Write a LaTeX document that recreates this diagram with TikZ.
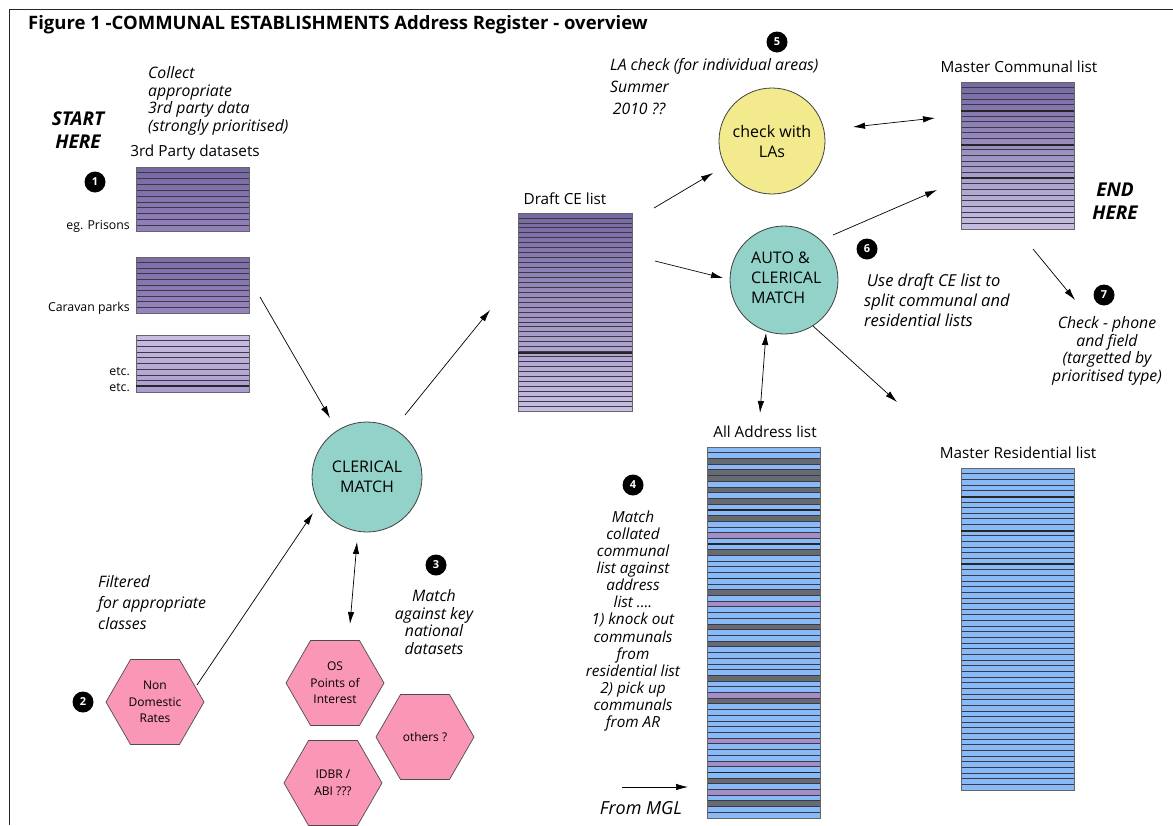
\documentclass[tikz,border=0pt]{standalone}
\usepackage{fontspec}
\setmainfont{Open Sans}
\usetikzlibrary{arrows.meta,shapes.geometric}
\definecolor{teal1}{RGB}{146,210,200}
\definecolor{yell1}{RGB}{242,234,140}
\definecolor{hexpink}{RGB}{250,150,182}
\definecolor{ptop}{RGB}{118,104,162}
\definecolor{pmid}{RGB}{150,132,190}
\definecolor{pbot}{RGB}{200,190,226}
\definecolor{addrb}{RGB}{135,186,246}
\definecolor{addrg}{RGB}{102,107,114}
\definecolor{addrp}{RGB}{162,142,196}
\definecolor{sline}{RGB}{60,56,72}
\newcommand{\gradlist}[8]{%
  \shade[top color=#7,bottom color=#8] (#2,#3) rectangle (#4,#5);
  \pgfmathtruncatemacro{\stripecount}{#6-1}
  \pgfmathsetmacro{\stripepitch}{(#5-#3)/#6}
  \foreach \k in {1,...,\stripecount}{\draw[stripe] (#2,{#3+\k*\stripepitch}) -- (#4,{#3+\k*\stripepitch});}
  \node[lframe,minimum width={(#4-#2)*1pt},minimum height={(#5-#3)*1pt}] (#1) at ({(#2+#4)/2},{(#3+#5)/2}) {};
}
\begin{document}
\begin{tikzpicture}[x=1pt,y=-1pt,
  stripe/.style={draw=sline,line width=0.8pt},
  thickline/.style={draw=black!85,line width=2pt},
  lframe/.style={draw=black!60,line width=1pt,inner sep=0pt,outer sep=0pt},
  lbl/.style={font=\fontsize{15.3}{18}\selectfont,inner sep=0pt},
  small/.style={font=\fontsize{12.3}{14}\selectfont,inner sep=0pt},
  note/.style={font=\fontsize{15.8}{17.5}\selectfont\itshape,inner sep=0pt},
  badge/.style={circle,fill=black,text=white,font=\fontsize{11}{11}\selectfont\bfseries,minimum size=21pt,inner sep=0pt},
  proc/.style={circle,draw=black!75,line width=0.8pt,inner sep=0pt,align=center,font=\fontsize{16}{20}\selectfont},
  hexa/.style={regular polygon,regular polygon sides=6,minimum size=98pt,draw=black!70,line width=0.7pt,fill=hexpink,inner sep=0pt,align=center,font=\fontsize{12}{16.5}\selectfont},
  arr/.style={-{Latex[length=12pt,width=6.5pt]},line width=0.7pt},
  darr/.style={{Latex[length=12pt,width=6.5pt]}-{Latex[length=12pt,width=6.5pt]},line width=0.7pt},
  big/.style={font=\fontsize{19}{23}\selectfont\bfseries\itshape,inner sep=0pt,align=center}
]
\useasboundingbox (0,0) rectangle (1173,825);
\fill[white] (0,0) rectangle (1173,825);
% frame
\draw[line width=1.2pt,black!85] (9.5,825) -- (9.5,9.5) -- (1173,9.5);
% title
\node[anchor=west,font=\fontsize{18.5}{20}\selectfont\bfseries,inner sep=0pt] (title) at (28,25) {Figure 1 -COMMUNAL ESTABLISHMENTS Address Register - overview};

% ---- step 1
\node[big] (start) at (78,130) {START\\HERE};
\node[note,anchor=west,align=left] (collect) at (148,101) {Collect\\appropriate\\3rd party data\\(strongly prioritised)};
\node[lbl] (dslabel) at (195,153) {3rd Party datasets};
\node[badge] (b1) at (95,182) {1};
\gradlist{ds1}{136}{167}{249}{231}{11}{ptop}{pmid!90!ptop}
\gradlist{ds2}{136}{257}{249}{313}{10}{ptop!80!pmid}{pmid}
\gradlist{ds3}{136}{335}{249}{392}{10}{pbot}{pmid!60!pbot}
\draw[thickline,line width=1.5pt] (136,386) -- (249,386);
\node[small,anchor=east] (prisons) at (130,226) {eg. Prisons};
\node[small,anchor=east] (caravan) at (130,308) {Caravan parks};
\node[small,anchor=east] (etc1) at (130,372) {etc.};
\node[small,anchor=east] (etc2) at (130,388) {etc.};

% ---- clerical match
\node[proc,fill=teal1,minimum size=110pt] (clerical) at (367,477) {CLERICAL\\MATCH};
\coordinate (ds2out) at (260,297);
\coordinate (clin1) at (330,418);
\draw[arr] (ds2out) -- (clin1);

% ---- step 2
\node[badge] (b2) at (83,702) {2};
\node[hexa] (ndr) at (155,702) {Non\\Domestic\\Rates};
\node[note,anchor=west,align=left,font=\fontsize{15.8}{21}\selectfont\itshape] (filtered) at (98,603) {Filtered\\for appropriate\\classes};
\coordinate (ndrout) at (197,685);
\coordinate (clin2) at (313,513);
\draw[arr] (ndrout) -- (clin2);

% ---- step 3
\node[badge] (b3) at (436,565) {3};
\node[note,align=center] (matchkey) at (434,622) {Match\\against key\\national\\datasets};
\node[hexa] (os) at (335,683) {OS\\Points of\\Interest};
\node[hexa] (others) at (425,737) {others ?};
\node[hexa] (idbr) at (333,783) {IDBR /\\ABI ???};
\coordinate (clbot) at (357,542);
\coordinate (ostop) at (350,624);
\draw[darr] (clbot) -- (ostop);

% ---- draft CE list
\coordinate (clout) at (405,415);
\coordinate (draftin) at (490,310);
\draw[arr] (clout) -- (draftin);
\node[lbl] (draftlabel) at (565,199) {Draft CE list};
\gradlist{draft}{518}{213}{632}{411}{40}{ptop}{pbot}
\draw[thickline] (518,353) -- (632,353);

% ---- step 5
\node[badge] (b5) at (777,42) {5};
\node[note,anchor=west,align=left,font=\fontsize{15.8}{22}\selectfont\itshape] (lacheck) at (610,87) {LA check (for individual areas)\\Summer\\\,2010 ??};
\node[proc,fill=yell1,minimum size=106pt] (las) at (772,141) {check with\\LAs};
\coordinate (draftout1) at (654,208);
\coordinate (lasin) at (713,173);
\draw[arr] (draftout1) -- (lasin);

% ---- master communal
\node[lbl] (mclabel) at (1019,67) {Master Communal list};
\gradlist{mcl}{961}{82}{1074}{229}{26}{ptop}{pbot}
\draw[thickline] (961,111) -- (1074,111);
\draw[thickline] (961,145) -- (1074,145);
\draw[thickline] (961,178) -- (1074,178);
\node[big] (endhere) at (1115,201) {END\\HERE};
\coordinate (lasout) at (853,127);
\coordinate (mclin1) at (935,118);
\draw[darr] (lasout) -- (mclin1);

% ---- auto & clerical
\node[proc,fill=teal1,minimum size=108pt] (auto) at (784,280) {};
\node[anchor=west,align=left,font=\fontsize{16}{20}\selectfont,inner sep=0pt] (autotext) at (751,278) {AUTO \&\\CLERICAL\\MATCH};
\coordinate (draftout2) at (655,261);
\coordinate (autoin) at (723,278);
\draw[arr] (draftout2) -- (autoin);
\coordinate (autoout1) at (833,235);
\coordinate (mclin2) at (937,190);
\draw[arr] (autoout1) -- (mclin2);
\node[badge] (b6) at (867,249) {6};
\node[note,anchor=west,align=left,font=\fontsize{16.5}{20}\selectfont\itshape] (usedraft) at (864,300) {\,Use draft CE list to\\split communal and\\residential lists};

% ---- step 7
\coordinate (mclout) at (1033,249);
\coordinate (checkin) at (1075,300);
\draw[arr] (mclout) -- (checkin);
\node[badge] (b7) at (1104,295) {7};
\node[note,align=center] (checknote) at (1107,351) {Check - phone\\and field\\(targetted by\\prioritised type)};

% ---- all address list
\node[lbl] (aalabel) at (765,432) {All Address list};
\foreach \c [count=\i from 0] in {b,b,g,b,g,g,b,g,b,g,b,b,g,b,b,p,b,b,g,b,b,b,b,b,b,g,b,p,b,b,b,g,b,b,g,b,b,b,b,b,g,b,b,p,g,b,b,b,b,b,b,p,b,b,b,p,b,b,g,b,p,b,g,b,b}{
  \fill[addr\c] (707,{447+\i*5.70769}) rectangle (820,{447+(\i+1)*5.70769});
}
\foreach \k in {1,...,64}{\draw[stripe] (707,{447+\k*5.70769}) -- (820,{447+\k*5.70769});}
\foreach \k in {11,17,23,57}{\draw[thickline,line width=1.5pt] (707,{447+\k*5.70769}) -- (820,{447+\k*5.70769});}
\node[lframe,minimum width=113pt,minimum height=371pt] (aal) at (763.5,632.5) {};
\coordinate (autobot) at (766,333);
\coordinate (aaltop) at (760,413);
\draw[darr] (autobot) -- (aaltop);

% ---- master residential
\node[lbl] (mrlabel) at (1018,453) {Master Residential list};
\gradlist{mrl}{961}{468}{1074}{790}{57}{addrb}{addrb}
\draw[thickline] (961,497) -- (1074,497);
\draw[thickline] (961,531) -- (1074,531);
\draw[thickline] (961,564) -- (1074,564);
\coordinate (autoout2) at (813,326);
\coordinate (mrlin) at (897,402);
\draw[arr] (autoout2) -- (mrlin);

% ---- step 4
\node[badge] (b4) at (633,485) {4};
\node[note,align=center,font=\fontsize{15.3}{17.1}\selectfont\itshape] (step4) at (633,621) {Match\\collated\\communal\\list against\\address\\list ....\\1) knock out\\communals\\from\\residential list\\2) pick up\\communals\\from AR};
\coordinate (mglstart) at (622,787);
\coordinate (mglend) at (688,787);
\draw[arr] (mglstart) -- (mglend);
\node[note,font=\fontsize{18}{20}\selectfont\itshape] (mgl) at (641,808) {From MGL};
\end{tikzpicture}
\end{document}
